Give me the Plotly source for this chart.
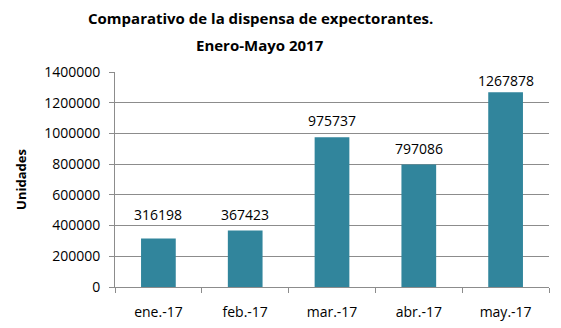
import plotly.graph_objects as go

months = ["ene.-17", "feb.-17", "mar.-17", "abr.-17", "may.-17"]
units = [316198, 367423, 975737, 797086, 1267878]
y_ticks = [0, 200000, 400000, 600000, 800000, 1000000, 1200000, 1400000]

bar_color = "#31859C"
grid_color = "#8C8C8C"
font_family = "Open Sans, Liberation Sans, sans-serif"

# vertical offset (px) of each value label above its bar
label_lift = {"ene.-17": 12, "feb.-17": 5, "mar.-17": 5, "abr.-17": 5, "may.-17": 0}

fig = go.Figure(
    go.Bar(
        x=months,
        y=units,
        width=0.4,
        marker=dict(color=bar_color, line=dict(width=0)),
        hoverinfo="x+y",
    )
)

# value labels above each bar
for m, v in zip(months, units):
    fig.add_annotation(
        x=m, y=v, text=str(v), showarrow=False,
        xanchor="center", yanchor="bottom", yshift=label_lift[m],
        font=dict(size=14, color="black", family=font_family),
    )

# two-line bold title
plot_w = 561 - 115 - 12
plot_h = 287 - 72
title_lines = ["Comparativo de la dispensa de expectorantes.", "Enero-Mayo 2017"]
for i, line in enumerate(title_lines):
    fig.add_annotation(
        xref="paper", yref="paper",
        x=(260 - 115) / plot_w, y=(287 - (18 + 27 * i)) / plot_h,
        text=f"<b>{line}</b>", showarrow=False,
        xanchor="center", yanchor="middle",
        font=dict(size=15, color="black", family=font_family),
    )

fig.update_layout(
    width=561,
    height=328,
    margin=dict(l=115, r=12, t=72, b=41, autoexpand=False),
    paper_bgcolor="white",
    plot_bgcolor="white",
    showlegend=False,
    font=dict(family=font_family, size=14, color="black"),
    xaxis=dict(
        automargin=False,
        showline=True,
        linecolor=grid_color,
        linewidth=1,
        ticks="outside",
        tickson="boundaries",
        ticklen=5,
        tickcolor=grid_color,
        showgrid=False,
        ticklabelstandoff=12,
        tickfont=dict(size=14, color="black"),
    ),
    yaxis=dict(
        automargin=False,
        range=[0, 1400000],
        tickvals=y_ticks,
        ticktext=[str(v) for v in y_ticks],
        showline=True,
        linecolor=grid_color,
        linewidth=1,
        ticks="outside",
        ticklen=5,
        tickcolor=grid_color,
        showgrid=True,
        gridcolor=grid_color,
        gridwidth=1,
        zeroline=False,
        ticklabelstandoff=6,
        tickfont=dict(size=14, color="black"),
        title=dict(text="<b>Unidades</b>", font=dict(size=13, color="black"), standoff=14),
    ),
)

fig.write_html("out.html")
